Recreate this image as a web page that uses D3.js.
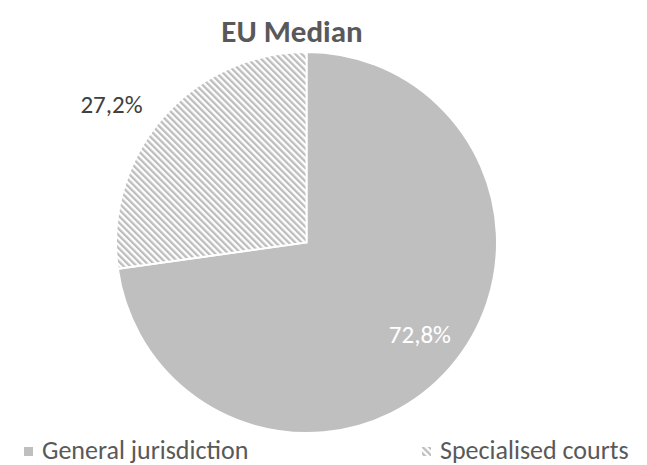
<!DOCTYPE html>
<html><head><meta charset="utf-8">
<script src="https://cdn.jsdelivr.net/npm/d3@7"></script>
<style>body{margin:0;background:#fff;} svg{display:block;}</style>
</head><body>
<script>
const categories = ["General jurisdiction", "Specialised courts"];
const values = [72.8, 27.2];
const labels = ["72,8%", "27,2%"];
const title = "EU Median";

const W = 647, H = 465;
const svg = d3.select("body").append("svg").attr("width", W).attr("height", H);
const defs = svg.append("defs");
const pat = defs.append("pattern").attr("id", "hatch").attr("patternUnits", "userSpaceOnUse")
  .attr("width", 4.6).attr("height", 4.6).attr("patternTransform", "rotate(-45)");
pat.append("rect").attr("width", 4.6).attr("height", 4.6).attr("fill", "#fff");
pat.append("rect").attr("width", 2.3).attr("height", 4.6).attr("fill", "#bdbdbd");

const font = "Calibri, Carlito, 'Open Sans', 'Liberation Sans', sans-serif";
svg.append("text").attr("x", 292).attr("y", 42).attr("text-anchor", "middle")
  .attr("font-family", font).attr("font-weight", "bold").attr("font-size", 31)
  .attr("fill", "#595959").text(title);

const cx = 306.5, cy = 242.5, R = 190.5;
const g = svg.append("g").attr("transform", `translate(${cx},${cy})`);
const pie = d3.pie().sort(null).value(d => d);
const arcs = pie(values);
const arc = d3.arc().innerRadius(0).outerRadius(R);
const fills = ["#bfbfbf", "url(#hatch)"];
g.selectAll("path").data(arcs).join("path").attr("d", arc)
  .attr("fill", (d, i) => fills[i]).attr("stroke", "#fff").attr("stroke-width", 2);

// label placement: radius and angular shift relative to slice middle
const labelR = [146, 239];
const labelShift = [-0.035, -0.1];
const labelCol = ["#ffffff", "#404040"];
arcs.forEach((d, i) => {
  const mid = (d.startAngle + d.endAngle) / 2 + labelShift[i];
  const [x, y] = d3.pointRadial(mid, labelR[i]);
  g.append("text").attr("x", x).attr("y", y).attr("dy", "0.35em").attr("text-anchor", "middle")
    .attr("font-family", font).attr("font-size", 25).attr("fill", labelCol[i]).text(labels[i]);
});

const legX = [24, 422];
const lg = svg.append("g");
categories.forEach((c, i) => {
  lg.append("rect").attr("x", legX[i]).attr("y", 447).attr("width", 9).attr("height", 9)
    .attr("fill", fills[i]);
  lg.append("text").attr("x", legX[i] + 18).attr("y", 459).attr("font-family", font)
    .attr("font-size", 26).attr("fill", "#595959").text(c);
});
</script>
</body></html>
